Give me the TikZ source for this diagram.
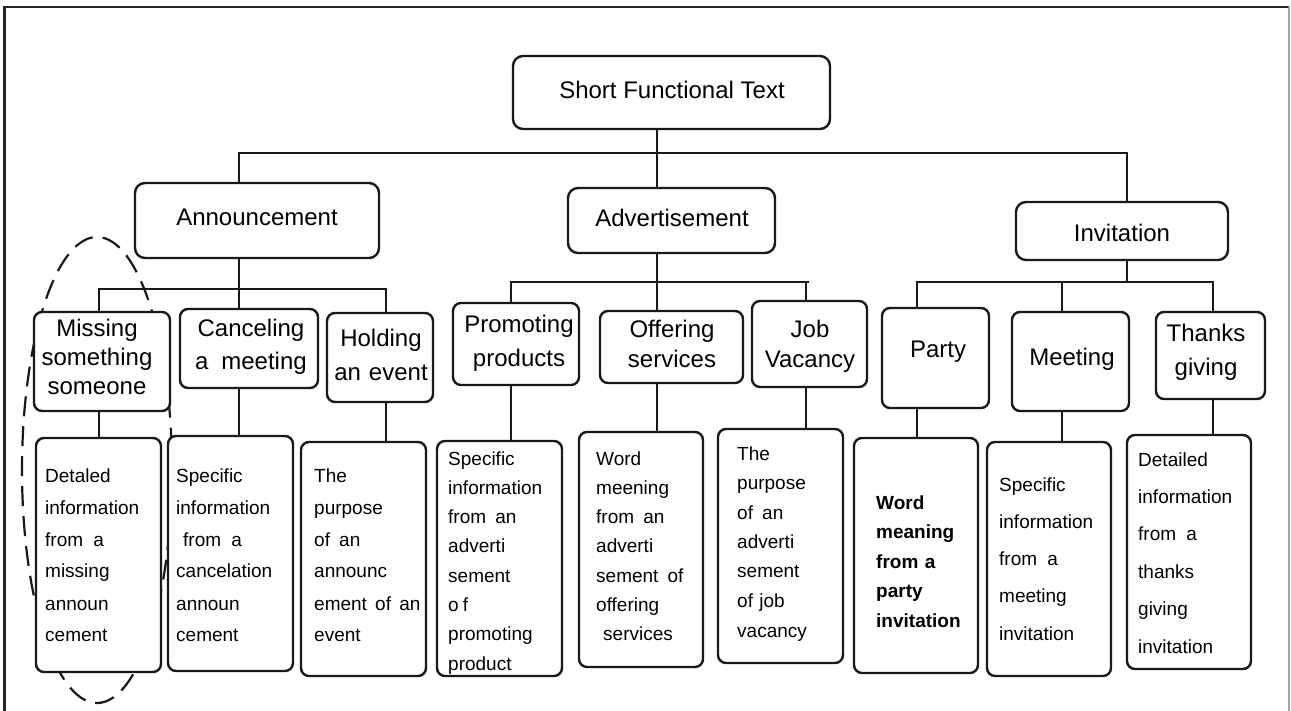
\documentclass[tikz,border=0pt]{standalone}
\usepackage{fontspec}
\setmainfont{Liberation Sans}
\begin{document}
% one unit = 1pt, y grows downwards
\begin{tikzpicture}[x=1pt,y=-1pt,
  ink/.style={draw=black!90, line width=2.4pt},
  rbox/.style={ink, fill=white, rounded corners=8pt, inner sep=0pt},
  bigbox/.style={rbox, rounded corners=10pt},
  link/.style={draw=black!90, line width=2.4pt},
  title/.style={inner sep=0pt, anchor=base, font=\fontsize{24}{28}\selectfont},
  sub/.style={inner sep=0pt, anchor=base, text width=150pt, align=center},
  info/.style={inner sep=0pt, anchor=base west, text width=140pt, align=left}
]
\useasboundingbox (0,0) rectangle (1291,711);

% box from (x1,y1) to (x2,y2)
\newcommand\placebox[6]{%
  \node[#6, minimum width={(#4-#2)*1pt}, minimum height={(#5-#3)*1pt}]
    (#1) at ({(#2+#4)/2},{(#3+#5)/2}) {};}

% outer frame
\draw[line width=2.8pt, black!85] (4.5,711) -- (4.5,7) -- (1289,7);
\draw[line width=1.2pt, black!35] (1289,7) -- (1289,711);

% highlighted group (passes behind the boxes)
\draw[line width=2.2pt, black!90, dash pattern=on 20pt off 10pt]
  (97,470) ellipse [x radius=75, y radius=233];

% boxes
\placebox{root}{513}{56}{830}{129}{bigbox}
\placebox{ann}{135}{183}{379}{258}{bigbox}
\placebox{adv}{568}{188}{775}{253}{bigbox}
\placebox{inv}{1016}{202}{1228}{260}{bigbox}

\placebox{miss}{34}{312}{170}{411}{rbox}
\placebox{canc}{180}{309}{318}{388}{rbox}
\placebox{hold}{327}{313}{433}{402}{rbox}
\placebox{prom}{453}{303}{579}{385}{rbox}
\placebox{offer}{600}{311}{743}{383}{rbox}
\placebox{job}{752}{301}{867}{387}{rbox}
\placebox{party}{882}{308}{989}{408}{rbox}
\placebox{meet}{1012}{312}{1129}{411}{rbox}
\placebox{thanks}{1156}{312}{1265}{399}{rbox}

\placebox{d1}{36}{438}{161}{672}{rbox}
\placebox{d2}{168}{436}{293}{671}{rbox}
\placebox{d3}{301}{442}{426}{676}{rbox}
\placebox{d4}{437}{441}{562}{676}{rbox}
\placebox{d5}{579}{432}{703}{667}{rbox}
\placebox{d6}{718}{429}{843}{663}{rbox}
\placebox{d7}{854}{438}{978}{673}{rbox}
\placebox{d8}{987}{442}{1111}{676}{rbox}
\placebox{d9}{1127}{435}{1251}{669}{rbox}

% junction points of the tree
\coordinate (j0)  at (657,153);
\coordinate (jL)  at (239,153);
\coordinate (jR)  at (1127,153);
\coordinate (a1)  at (99,289);
\coordinate (a2)  at (239,289);
\coordinate (a3)  at (386,289);
\coordinate (b1)  at (511,282);
\coordinate (b2)  at (657,282);
\coordinate (b3)  at (806,282);
\coordinate (b3e) at (809,282);
\coordinate (c1)  at (917,282);
\coordinate (c2)  at (1062,282);
\coordinate (c3)  at (1213,282);

% connectors
\draw[link] (root.south -| j0) -- (adv.north -| j0);
\draw[link] (ann.north -| jL) -- (jL) -- (jR) -- (inv.north -| jR);

\draw[link] (ann.south -| a2) -- (a2);
\draw[link] (miss.north -| a1) -- (a1) -- (a3) -- (hold.north -| a3);
\draw[link] (a2) -- (canc.north -| a2);

\draw[link] (adv.south -| b2) -- (b2);
\draw[link] (prom.north -| b1) -- (b1) -- (b3e);
\draw[link] (b2) -- (offer.north -| b2);
\draw[link] (b3) -- (job.north -| b3);

\draw[link] (inv.south -| jR) -- (jR |- c2);
\draw[link] (party.north -| c1) -- (c1) -- (c3) -- (thanks.north -| c3);
\draw[link] (c2) -- (meet.north -| c2);

\draw[link] (miss.south -| a1) -- (d1.north -| a1);
\draw[link] (canc.south -| a2) -- (d2.north -| a2);
\draw[link] (hold.south -| a3) -- (d3.north -| a3);
\draw[link] (prom.south -| b1) -- (d4.north -| b1);
\draw[link] (offer.south -| b2) -- (d5.north -| b2);
\draw[link] (job.south -| b3) -- (d6.north -| b3);
\draw[link] (party.south -| c1) -- (d7.north -| c1);
\draw[link] (meet.south -| c2) -- (d8.north -| c2);
\draw[link] (thanks.south -| c3) -- (d9.north -| c3);

% headings
\node[title] (troot) at (672,99) {Short Functional Text};
\node[title] (tann)  at (257,226) {Announcement};
\node[title] (tadv)  at (672,227) {Advertisement};
\node[title] (tinv)  at (1122,242) {Invitation};

\node[sub, font=\fontsize{24}{29}\selectfont] (tmiss) at (97,337) {Missing\\something\\someone};
\node[sub, font=\fontsize{24}{33}\selectfont] (tcanc) at (251,337) {Canceling\\a\hspace{0.2em} meeting};
\node[sub, font=\fontsize{24}{34}\selectfont] (thold) at (381,347) {Holding\\an event};
\node[sub, font=\fontsize{24}{34}\selectfont] (tprom) at (519,333) {Promoting\\products};
\node[sub, font=\fontsize{24}{29.5}\selectfont] (toffer) at (672,338) {Offering\\services};
\node[sub, font=\fontsize{24}{30}\selectfont] (tjob) at (810,338) {Job\\Vacancy};
\node[sub, font=\fontsize{24}{30}\selectfont] (tparty) at (938,358) {Party};
\node[sub, font=\fontsize{24}{30}\selectfont] (tmeet) at (1072,366) {Meeting};
\node[sub, font=\fontsize{24}{34}\selectfont] (tthanks) at (1206,342) {Thanks\\giving};

% details
\node[info, font=\fontsize{19}{32}\selectfont] (x1) at (45,482)
  {Detaled\\information\\from\hspace{0.2em} a\\missing\\announ\\cement};
\node[info, font=\fontsize{19}{32}\selectfont] (x2) at (176,482)
  {Specific\\information\\\hspace*{7pt}from\hspace{0.2em} a\\cancelation\\announ\\cement};
\node[info, font=\fontsize{19}{32}\selectfont] (x3) at (314,482)
  {The\\purpose\\of\hspace{0.15em} an\\announc\\ement\hspace{0.1em} of\hspace{0.1em} an\\event};
\node[info, font=\fontsize{19}{29.3}\selectfont] (x4) at (448,465)
  {Specific\\information\\from\hspace{0.15em} an\\adverti\\sement\\o\kern4pt f\\promoting\\product};
\node[info, font=\fontsize{19}{29.3}\selectfont] (x5) at (596,465)
  {Word\\meening\\from\hspace{0.15em} an\\adverti\\sement\hspace{0.15em} of\\offering\\\hspace*{7pt}services};
\node[info, font=\fontsize{19}{29.5}\selectfont] (x6) at (737,460)
  {The\\purpose\\of\hspace{0.15em} an\\adverti\\sement\\of job\\vacancy};
\node[info, font=\bfseries\fontsize{19}{29.5}\selectfont] (x7) at (876,509)
  {Word\\meaning\\from a\\party\\invitation};
\node[info, font=\fontsize{19}{37.25}\selectfont] (x8) at (999,491)
  {Specific\\information\\from\hspace{0.2em} a\\meeting\\invitation};
\node[info, font=\fontsize{19}{37.4}\selectfont] (x9) at (1138,466)
  {Detailed\\information\\from\hspace{0.2em} a\\thanks\\giving\\invitation};
\end{tikzpicture}
\end{document}
